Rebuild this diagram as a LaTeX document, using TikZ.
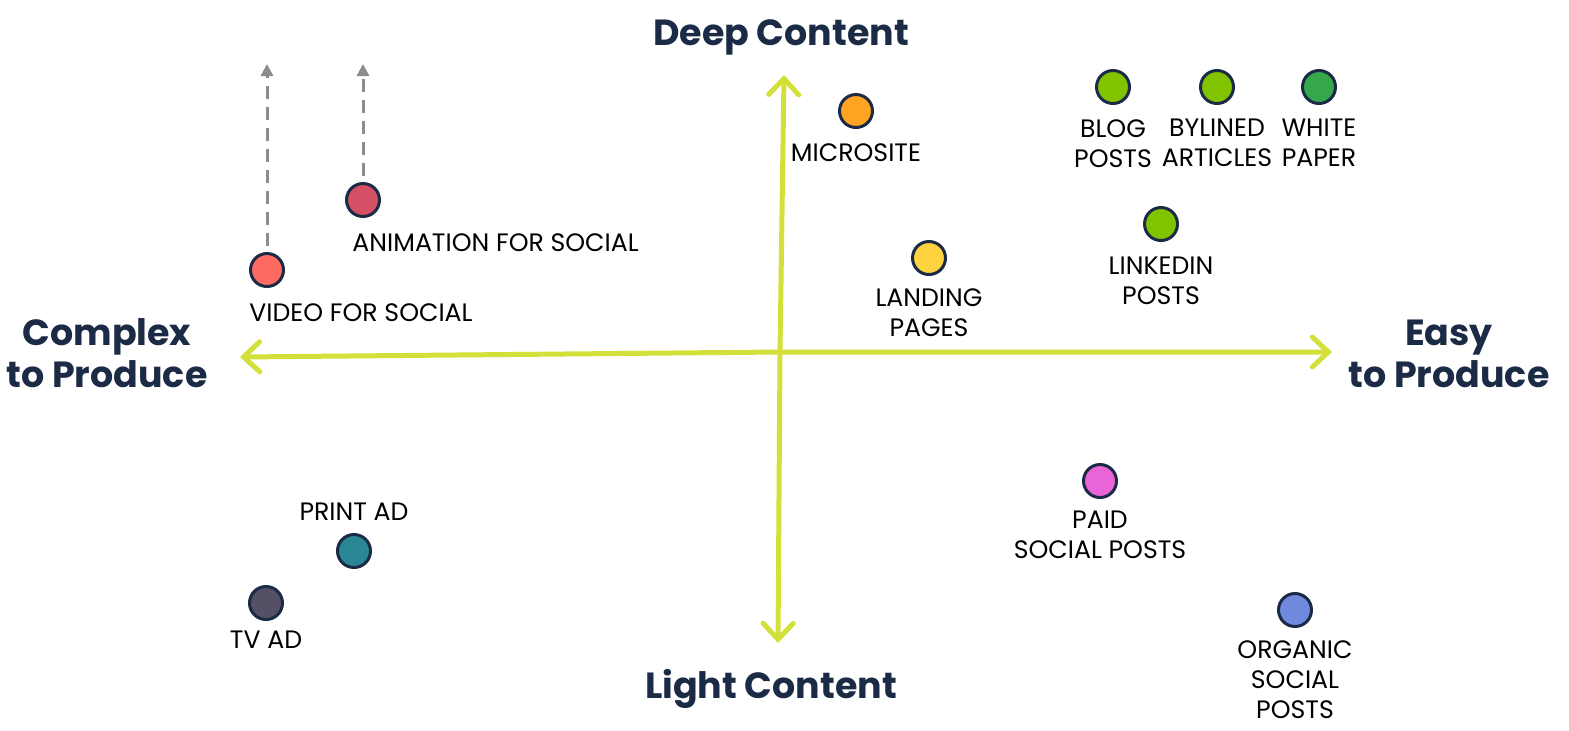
\documentclass[tikz,border=0pt]{standalone}
\usepackage{fontspec}
\setmainfont{Poppins}
\usepackage{tikz}
\usetikzlibrary{arrows.meta}
\usetikzlibrary{positioning}
\definecolor{mnavy}{HTML}{1B2B45}
\definecolor{maxis}{HTML}{D4E03A}
\definecolor{mgrey}{HTML}{8C8C8C}
\definecolor{mvideo}{HTML}{FF6B61}
\definecolor{manim}{HTML}{D45064}
\definecolor{morange}{HTML}{FFA323}
\definecolor{myellow}{HTML}{FFD23F}
\definecolor{mlime}{HTML}{82C300}
\definecolor{mgreen}{HTML}{34A84A}
\definecolor{mpink}{HTML}{E964D6}
\definecolor{mperi}{HTML}{6F89DC}
\definecolor{mteal}{HTML}{2A8796}
\definecolor{mslate}{HTML}{555066}
\tikzset{dot/.style = {circle, draw=mnavy, line width=1.5pt, minimum size=16.5pt, inner sep=0pt},
         lbl/.style = {font=\fontsize{12.6}{15}\selectfont, align=center, inner sep=0pt},
         ttl/.style = {font=\bfseries\fontsize{18.2}{21}\selectfont, text=mnavy, align=center, inner sep=0pt},
         axisline/.style = {draw=maxis, line width=2.5pt, line cap=round, line join=round,
                            {Straight Barb[length=8pt, width=15pt, line cap=round]}-{Straight Barb[length=8pt, width=15pt, line cap=round]}},
         trend/.style = {draw=mgrey, line width=1.5pt, dash pattern=on 6.5pt off 4pt,
                         shorten <=3pt, -{Triangle[length=6pt, width=6pt]}}}

\begin{document}
\begin{tikzpicture}[x=0.5pt, y=-0.5pt]
    \useasboundingbox (0, 0) rectangle (1569, 730);

    % axes
    \coordinate (ctr) at (780, 352);
    \coordinate (deeptip) at (784, 75);
    \coordinate (lighttip) at (778, 643);
    \coordinate (complextip) at (240, 357);
    \coordinate (easytip) at (1332, 352);
    \draw [axisline] (lighttip) -- (ctr) -- (deeptip);
    \draw [axisline] (complextip) -- (ctr) -- (easytip);

    \node [ttl, anchor=base] (deep) at (781, 45) {Deep Content};
    \node [ttl, anchor=base] (light) at (771, 698) {Light Content};
    \node [ttl, anchor=base] (complex) at (107, 387) {Complex\\to Produce};
    \node [ttl, anchor=base] (easy) at (1449, 387) {Easy\\to Produce};

    % upper left
    \node [dot, fill=mvideo] (vid) at (267, 270) {};
    \node [lbl, anchor=north west] (vidlbl) at (249, 303) {VIDEO FOR SOCIAL};
    \node [dot, fill=manim] (anim) at (363, 200) {};
    \node [lbl, anchor=north west] (animlbl) at (352, 233) {ANIMATION FOR SOCIAL};
    \coordinate (vidgoal) at (267, 64);
    \coordinate (animgoal) at (363, 64);
    \draw [trend] (vid) -- (vidgoal);
    \draw [trend] (anim) -- (animgoal);

    % upper right
    \node [dot, fill=morange] (micro) at (856, 111) {};
    \node [lbl, below=7pt of micro] (microlbl) {MICROSITE};
    \node [dot, fill=mlime] (blog) at (1113, 87) {};
    \node [lbl, below=7pt of blog] (bloglbl) {BLOG\\POSTS};
    \node [dot, fill=mlime] (byline) at (1217, 87) {};
    \node [lbl, below=7pt of byline] (bylinelbl) {BYLINED\\ARTICLES};
    \node [dot, fill=mgreen] (wpaper) at (1319, 87) {};
    \node [lbl, below=7pt of wpaper] (wpaperlbl) {WHITE\\PAPER};
    \node [dot, fill=mlime] (lnkd) at (1161, 224) {};
    \node [lbl, below=7pt of lnkd] (lnkdlbl) {LINKEDIN\\POSTS};
    \node [dot, fill=myellow] (landing) at (929, 258) {};
    \node [lbl, below=6pt of landing] (landinglbl) {LANDING\\PAGES};

    % lower right
    \node [dot, fill=mpink] (paid) at (1100, 481) {};
    \node [lbl, below=6pt of paid] (paidlbl) {PAID\\SOCIAL POSTS};
    \node [dot, fill=mperi] (organic) at (1295, 610) {};
    \node [lbl, below=6pt of organic] (organiclbl) {ORGANIC\\SOCIAL\\POSTS};

    % lower left
    \node [dot, fill=mteal] (print) at (354, 551) {};
    \node [lbl, above=6pt of print] (printlbl) {PRINT AD};
    \node [dot, fill=mslate] (tvad) at (266, 603) {};
    \node [lbl, below=5pt of tvad] (tvadlbl) {TV AD};
\end{tikzpicture}
\end{document}
